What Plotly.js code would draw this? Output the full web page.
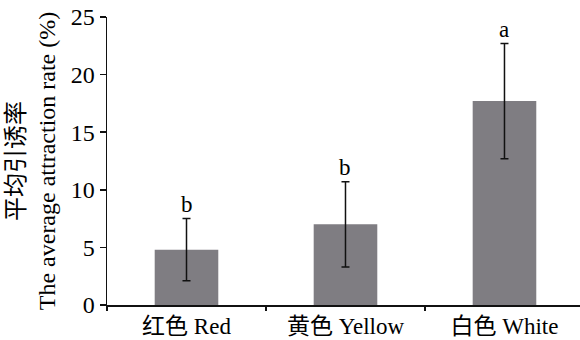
<!DOCTYPE html>
<html>
<head>
<meta charset="utf-8">
<script src="https://cdn.plot.ly/plotly-3.0.1.min.js"></script>
<style>html,body{margin:0;padding:0;background:#fff;}#chart{width:580px;height:340px;}</style>
</head>
<body>
<div id="chart"></div>
<script>
const categories = ["红色 Red", "黄色 Yellow", "白色 White"];
const meanRate = [4.8, 7.0, 17.7];
const errorRate = [2.7, 3.7, 5.0];
const groupLetters = ["b", "b", "a"];
const yTickVals = [0, 5, 10, 15, 20, 25];

const fontFam = "Liberation Serif, 'Noto Sans CJK SC', serif";

const trace = {
  type: "bar",
  x: categories,
  y: meanRate,
  width: 0.4,
  marker: {color: "#7f7d82", line: {width: 0}},
  error_y: {type: "data", array: errorRate, visible: true, color: "#111", thickness: 1.5, width: 4},
  hoverinfo: "none"
};

const annotations = categories.map((c, i) => ({
  x: c, y: meanRate[i] + errorRate[i], xref: "x", yref: "y",
  text: groupLetters[i], showarrow: false, yanchor: "bottom", yshift: 0,
  font: {family: fontFam, size: 23, color: "#000"}
}));

const layout = {
  width: 580, height: 340,
  margin: {l: 107, r: 0, t: 17, b: 35},
  paper_bgcolor: "#fff", plot_bgcolor: "#fff",
  showlegend: false,
  font: {family: fontFam, color: "#000"},
  xaxis: {
    type: "category",
    range: [-0.5, 2.475],
    showline: true, linecolor: "#111", linewidth: 1.5,
    ticks: "outside", tickson: "boundaries", ticklen: 4, tickcolor: "#111", tickwidth: 1.5,
    showgrid: false, zeroline: false,
    tickfont: {family: fontFam, size: 23, color: "#000"}
  },
  yaxis: {
    range: [0, 25],
    tickvals: yTickVals,
    showline: true, linecolor: "#111", linewidth: 1.5,
    ticks: "outside", ticklen: 6, tickcolor: "#111", tickwidth: 1.5,
    ticklabelstandoff: 0,
    showgrid: false, zeroline: false,
    tickfont: {family: fontFam, size: 24, color: "#000"},
    title: {
      text: "平均引诱率<br>The average attraction rate (%)",
      font: {family: fontFam, size: 24, color: "#000"},
      standoff: 8
    },
    automargin: false
  },
  annotations: annotations
};

Plotly.newPlot("chart", [trace], layout, {displayModeBar: false, staticPlot: true});
</script>
</body>
</html>
